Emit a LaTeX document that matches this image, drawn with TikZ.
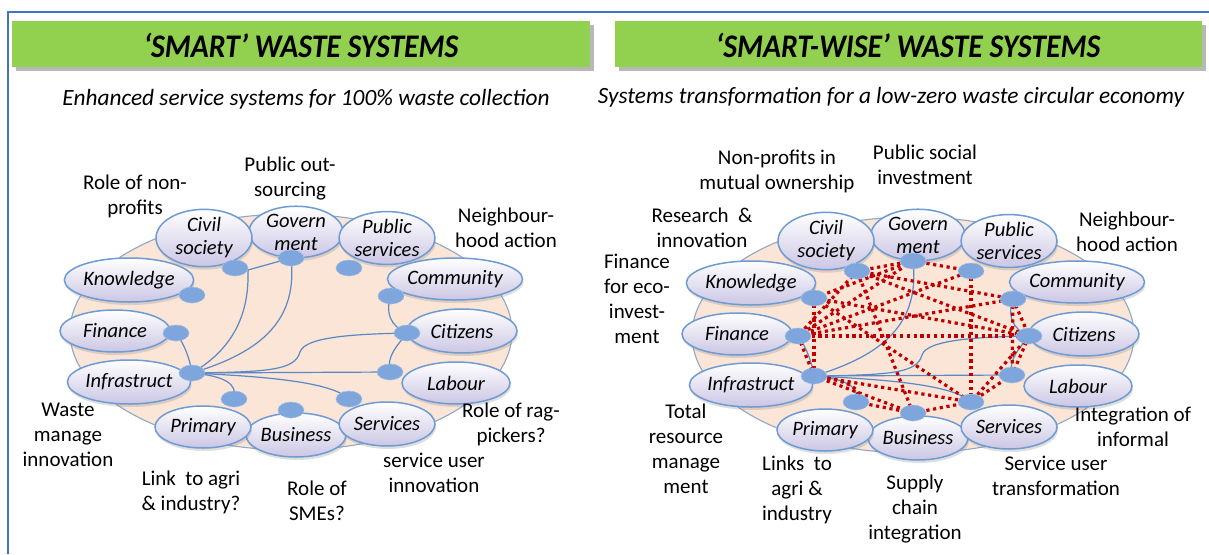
\documentclass[tikz,border=0pt]{standalone}
\usepackage{fontspec}
\setmainfont{Carlito}
\usetikzlibrary{shapes.geometric,shadows,calc}
\definecolor{hgreen}{HTML}{92D050}
\definecolor{frameblue}{HTML}{4472C4}
\definecolor{peach}{HTML}{FBE5D6}
\definecolor{bigline}{HTML}{8FA8C8}
\definecolor{nodeline}{HTML}{6E9BD3}
\definecolor{nodefill}{HTML}{CBC6E4}
\definecolor{dotfill}{HTML}{7EA6DC}
\definecolor{linkblue}{HTML}{5A88C6}
\definecolor{dotred}{HTML}{C00000}
\tikzset{
  sysnode/.style={ellipse, draw=nodeline, line width=1.5pt, top color=white, bottom color=nodefill,
    inner sep=0pt, align=center, font=\fontsize{20.5}{23}\selectfont\itshape,
    drop shadow={opacity=0.25, shadow xshift=1pt, shadow yshift=-3pt}},
  linkdot/.style={ellipse, fill=dotfill, draw=dotfill!70!white, dash pattern=on 2pt off 1.5pt,
    line width=0.8pt, minimum width=26pt, minimum height=16pt, inner sep=0pt},
  blueline/.style={draw=linkblue, line width=1.2pt},
  redline/.style={draw=dotred, line width=3.2pt, dash pattern=on 3.2pt off 3.6pt},
  lbl/.style={font=\fontsize{21}{25}\selectfont, align=center, inner sep=0pt},
  headtxt/.style={font=\fontsize{33}{33}\selectfont\bfseries\itshape, inner sep=0pt},
  subtxt/.style={font=\fontsize{23.3}{25}\selectfont\itshape, inner sep=0pt}
}
\newcommand\sysbase[1]{%
  \draw[bigline, fill=peach, line width=1.1pt] (291,332) ellipse [x radius=221, y radius=118];
  \node[sysnode, minimum width=94pt, minimum height=44pt] (#1gov) at (296,232) {Govern\\ment};
  \node[sysnode, minimum width=96pt, minimum height=44pt] (#1civ) at (204,238) {Civil\\society};
  \node[sysnode, minimum width=96pt, minimum height=44pt] (#1pub) at (387,238) {Public\\services};
  \node[sysnode, minimum width=106pt, minimum height=42pt] (#1com) at (455,279) {Community};
  \node[sysnode, minimum width=110pt, minimum height=44pt] (#1cit) at (462,331) {Citizens};
  \node[sysnode, minimum width=108pt, minimum height=42pt] (#1lab) at (456,383) {Labour};
  \node[sysnode, minimum width=96pt, minimum height=44pt] (#1bus) at (296,435) {Business};
  \node[sysnode, minimum width=96pt, minimum height=42pt] (#1pri) at (203,427) {Primary};
  \node[sysnode, minimum width=96pt, minimum height=44pt] (#1ser) at (387,424) {Services};
  \node[sysnode, minimum width=112pt, minimum height=44pt] (#1inf) at (129,382) {Infrastruct};
  \node[sysnode, minimum width=110pt, minimum height=42pt] (#1fin) at (115,331) {Finance};
  \node[sysnode, minimum width=112pt, minimum height=44pt] (#1kno) at (129,280) {Knowledge};
  \coordinate (#1pC) at (235,268);
  \coordinate (#1pK) at (192,295);
  \coordinate (#1pF) at (176,333);
  \coordinate (#1pH) at (192,373);
  \coordinate (#1pR) at (234,399);
  \coordinate (#1pG) at (291,258);
  \coordinate (#1pP) at (349,268);
  \coordinate (#1pM) at (391,296);
  \coordinate (#1pZ) at (407,333);
  \coordinate (#1pL) at (390,372);
  \coordinate (#1pS) at (349,399);
  \coordinate (#1pB) at (291,410);
}
\newcommand\sysdots[1]{%
  \foreach \q in {C,K,F,H,R,G,P,M,Z,L,S,B} {\node[linkdot] (#1d\q) at (#1p\q) {};}
}
\newcommand\syslinks[1]{%
  \draw[blueline] (#1pH) .. controls (262,352) and (298,320) .. (#1pG);
  \draw[blueline] (#1pH) .. controls (270,372) and (295,370) .. (300,352) .. controls (305,336) and (360,334) .. (#1pZ);
  \draw[blueline] (#1pH) -- (#1pL);
  \draw[blueline] (#1pH) .. controls (250,376) and (330,380) .. (#1pS);
  \draw[blueline] (#1pH) .. controls (225,376) and (238,384) .. (#1pR);
  \draw[blueline] (#1pF) .. controls (185,345) and (190,360) .. (#1pH);
  \draw[blueline] (#1pM) .. controls (385,312) and (390,326) .. (#1pZ) .. controls (398,345) and (386,356) .. (#1pL);
}
\begin{document}
\begin{tikzpicture}[x=1pt,y=-1pt]
\useasboundingbox (0,0) rectangle (1209,554);
\fill[white] (0,0) rectangle (1209,554);
\draw[frameblue, line width=1.5pt] (8,554) -- (8,12) -- (1209,12);
% headers
\fill[black, opacity=0.28] (16,25) rectangle (594,71);
\fill[hgreen] (12,21) rectangle (590,67);
\fill[black, opacity=0.28] (619,25) rectangle (1206,71);
\fill[hgreen] (615,21) rectangle (1202,67);
\node[headtxt] (h1) at (301,45) {\scalebox{0.9}[1]{‘SMART’ WASTE SYSTEMS}};
\node[headtxt] (h2) at (908,45) {\scalebox{0.9}[1]{‘SMART-WISE’ WASTE SYSTEMS}};
\node[subtxt] (s1) at (306,99) {Enhanced service systems for 100\% waste collection};
\node[subtxt] (s2) at (891,97) {Systems transformation for a low-zero waste circular economy};
% left system
\sysbase{L}
\syslinks{L}
\draw[blueline] (LpH) .. controls (240,345) and (249,305) .. (248,270) -- (LpG);
\draw[blueline] (LpC) -- (248,270);
\sysdots{L}
% right system
\begin{scope}[shift={(622,3)}]
\sysbase{R}
\syslinks{R}
\foreach \a/\b in {G/P, C/G, G/K, G/F, C/M, C/Z, C/B, C/F, K/H, K/Z, K/S, F/P, F/M, F/H, F/Z, H/S, H/B, R/B, B/S, P/S, M/L, M/Z, Z/S, Z/L, L/S}
  {\draw[redline] (Rp\a) -- (Rp\b);}
\draw[redline] (RpH) .. controls (228,378) and (242,386) .. (RpR);
\sysdots{R}
\end{scope}
% left labels
\node[lbl] (l1) at (135,196) {Role of non-\\profits};
\node[lbl] (l2) at (290,179) {Public out-\\sourcing};
\node[lbl] (l3) at (506,228) {Neighbour-\\hood action};
\node[lbl] (l4) at (68,435) {Waste\\manage\\innovation};
\node[lbl] (l5) at (191,492) {Link~ to agri\\\& industry?};
\node[lbl] (l6) at (317,501) {Role of\\SMEs?};
\node[lbl] (l7) at (434,473) {service user\\innovation};
\node[lbl] (l8) at (511,424) {Role of rag-\\pickers?};
% right labels
\node[lbl] (r1) at (777,171) {Non-profits in\\mutual ownership};
\node[lbl] (r2) at (925,165) {Public social\\investment};
\node[lbl] (r3) at (702,228) {Research~ \&\\innovation};
\node[lbl] (r4) at (637,299) {Finance\\for eco-\\invest-\\ment};
\node[lbl] (r5) at (1127,232) {Neighbour-\\hood action};
\node[lbl] (r6) at (686,449) {Total\\resource\\manage\\ment};
\node[lbl] (r7) at (797,490) {Links~ to\\agri \&\\industry};
\node[lbl] (r8) at (915,509) {Supply\\chain\\integration};
\node[lbl] (r9) at (1056,476) {Service user\\transformation};
\node[lbl] (r10) at (1133,427) {Integration of\\informal};
\end{tikzpicture}
\end{document}
